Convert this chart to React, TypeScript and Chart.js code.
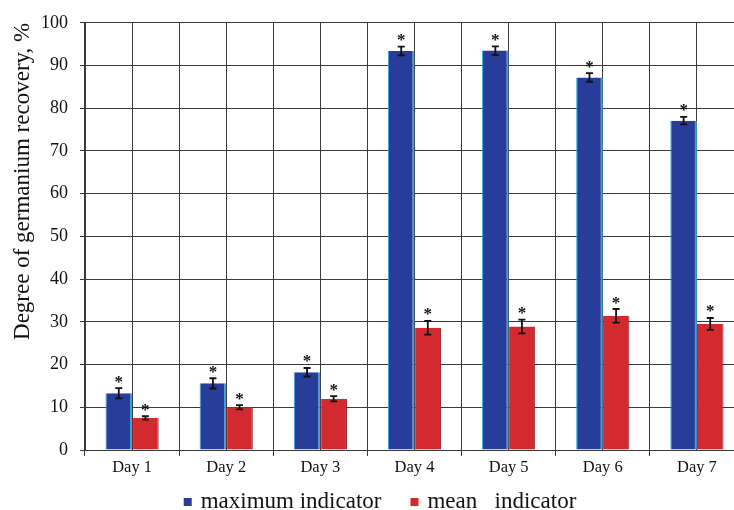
import React, { useEffect, useRef } from "react";
import { Chart, registerables } from "chart.js";

Chart.register(...registerables);

const categories = ["Day 1", "Day 2", "Day 3", "Day 4", "Day 5", "Day 6", "Day 7"];
const maxValues = [13.3, 15.6, 18.2, 93.4, 93.5, 87.2, 77.1];
const maxErrors = [1.2, 1.2, 1.0, 1.0, 1.0, 1.0, 0.9];
const meanValues = [7.5, 10.0, 12.0, 28.6, 28.9, 31.4, 29.5];
const meanErrors = [0.4, 0.5, 0.6, 1.6, 1.6, 1.6, 1.4];
const seriesNames = ["maximum indicator", "mean   indicator"];
const yTitle = "Degree of germanium recovery, %";

const FONT = "'Liberation Serif', 'Times New Roman', serif";
const GRID = "#3a3a3a";

const errorPlugin = {
  id: "errorBars",
  afterDatasetsDraw(chart: any) {
    const ctx = chart.ctx;
    const yScale = chart.scales.y;
    chart.data.datasets.forEach((ds: any, di: number) => {
      const meta = chart.getDatasetMeta(di);
      const errs = ds.errors as number[];
      meta.data.forEach((el: any, i: number) => {
        const v = ds.data[i];
        const e = errs[i];
        const x = el.x;
        const yT = yScale.getPixelForValue(v + e);
        const yB = yScale.getPixelForValue(v - e);
        ctx.save();
        ctx.strokeStyle = "#111";
        ctx.lineWidth = 1.8;
        ctx.beginPath();
        ctx.moveTo(x, yT);
        ctx.lineTo(x, yB);
        ctx.moveTo(x - 3.5, yT);
        ctx.lineTo(x + 3.5, yT);
        ctx.moveTo(x - 3.5, yB);
        ctx.lineTo(x + 3.5, yB);
        ctx.stroke();
        ctx.fillStyle = "#111";
        ctx.font = `bold 17px ${FONT}`;
        ctx.textAlign = "center";
        ctx.textBaseline = "alphabetic";
        ctx.fillText("*", x, yT - 1.5);
        ctx.restore();
      });
    });
  },
};

const legendPlugin = {
  id: "bottomLegend",
  afterDraw(chart: any) {
    const ctx = chart.ctx;
    const box = 8;
    const boxGap = 9;
    const itemGap = 29;
    ctx.save();
    ctx.font = `23px ${FONT}`;
    const items = chart.data.datasets.map((ds: any) => ({
      text: ds.label as string,
      color: ds.backgroundColor as string,
      w: box + boxGap + ctx.measureText(ds.label).width,
    }));
    const total = items.reduce((s: number, it: any) => s + it.w, 0) + itemGap * (items.length - 1);
    let x = chart.width / 2 - total / 2;
    const baseline = 508;
    items.forEach((it: any) => {
      ctx.fillStyle = it.color;
      ctx.fillRect(x, baseline - 10, box, box);
      ctx.fillStyle = "#111";
      ctx.textAlign = "left";
      ctx.textBaseline = "alphabetic";
      ctx.fillText(it.text, x + box + boxGap, baseline);
      x += it.w + itemGap;
    });
    ctx.restore();
  },
};

export default function App() {
  const ref = useRef<HTMLCanvasElement | null>(null);
  useEffect(() => {
    if (!ref.current) return;
    const chart = new Chart(ref.current, {
      type: "bar",
      data: {
        labels: categories,
        datasets: [
          {
            label: seriesNames[0],
            data: maxValues,
            errors: maxErrors,
            backgroundColor: "#283c9a",
            borderColor: "#2fa6dc",
            borderWidth: { left: 1, right: 2, top: 0, bottom: 0 },
            borderSkipped: false,
            categoryPercentage: 0.565,
            barPercentage: 1,
          } as any,
          {
            label: seriesNames[1],
            data: meanValues,
            errors: meanErrors,
            backgroundColor: "#d22a2e",
            borderColor: "#8e1c22",
            borderWidth: { left: 1, right: 1, top: 0, bottom: 0 },
            borderSkipped: false,
            categoryPercentage: 0.565,
            barPercentage: 1,
          } as any,
        ],
      },
      options: {
        animation: false,
        responsive: true,
        maintainAspectRatio: false,
        layout: { padding: { top: 20, right: 16, left: 0, bottom: 28 } },
        scales: {
          x: {
            type: "category",
            grid: { color: GRID, tickLength: 6, offset: true },
            border: { color: GRID, width: 1 },
            ticks: { color: "#111", font: { family: FONT, size: 16.5 }, padding: 2 },
            afterFit: (s: any) => { s.height = 32; },
          },
          xg: {
            type: "linear",
            position: "bottom",
            offset: false,
            min: 0,
            max: 14,
            ticks: { display: false, stepSize: 1 },
            grid: { color: GRID, drawTicks: false, offset: false },
            border: { display: false },
            afterFit: (s: any) => { s.height = 0; },
          },
          y: {
            min: 0,
            max: 100,
            ticks: { stepSize: 10, color: "#111", font: { family: FONT, size: 18 }, padding: 12 },
            grid: { color: GRID, tickLength: 5 },
            border: { color: GRID },
            title: {
              display: true,
              text: yTitle,
              align: "end",
              color: "#111",
              font: { family: FONT, size: 23 },
              padding: { top: 9, bottom: 0 },
            },
            afterFit: (s: any) => { s.width = 85; },
          },
        },
        plugins: {
          legend: { display: false },
          tooltip: { enabled: false },
        },
      } as any,
      plugins: [errorPlugin, legendPlugin],
    });
    return () => chart.destroy();
  }, []);
  return (
    <div style={{ position: "fixed", left: 0, top: 0, width: 734, height: 510, overflow: "hidden", background: "#fff" }}>
      <div style={{ position: "relative", width: 760, height: 510 }}>
        <canvas ref={ref} />
      </div>
    </div>
  );
}
